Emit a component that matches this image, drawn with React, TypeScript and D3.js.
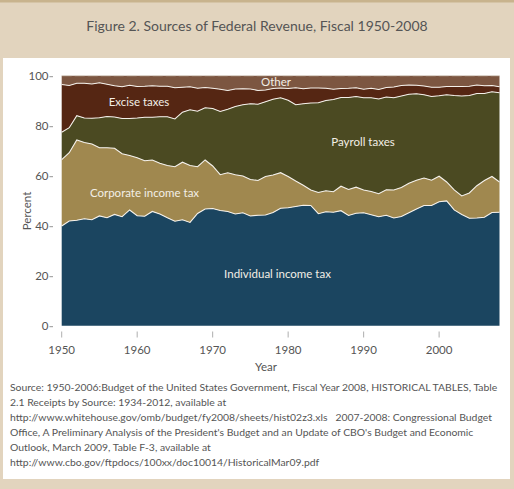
import { useEffect, useRef } from "react";
import * as d3 from "d3";

// shares of total federal receipts, percent, fiscal 1950-2008
const years = d3.range(1950, 2009);
const individual = [
  39.9, 41.9, 42.2, 42.8, 42.4, 43.9, 43.2, 44.5, 43.6, 46.3,
  44.0, 43.8, 45.7, 44.7, 43.2, 41.8, 42.4, 41.3, 44.9, 46.7,
  46.9, 46.1, 45.7, 44.7, 45.2, 43.9, 44.2, 44.3, 45.3, 47.0,
  47.2, 47.7, 48.2, 48.1, 44.8, 45.6, 45.4, 46.0, 44.1, 45.0,
  45.2, 44.4, 43.6, 44.2, 43.1, 43.7, 45.2, 46.7, 48.1, 48.1,
  49.6, 49.9, 46.3, 44.5, 43.0, 43.1, 43.4, 45.3, 45.4,
];
const corporate = [
  26.5, 27.3, 32.1, 30.5, 30.3, 27.3, 28.0, 26.5, 25.2, 21.8,
  23.2, 22.2, 20.6, 20.3, 20.9, 21.8, 23.0, 22.8, 18.7, 19.6,
  17.0, 14.3, 15.5, 15.7, 14.7, 14.6, 13.9, 15.4, 15.0, 14.2,
  12.5, 10.2, 8.0, 6.2, 8.5, 8.4, 8.2, 9.8, 10.4, 10.4,
  9.1, 9.3, 9.2, 10.2, 11.2, 11.6, 11.8, 11.5, 11.0, 10.1,
  10.2, 7.6, 8.0, 7.4, 10.1, 12.9, 14.7, 14.4, 12.1,
];
const payroll = [
  11.0, 10.0, 9.7, 9.8, 10.3, 12.0, 12.5, 12.5, 14.1, 14.8,
  15.9, 17.4, 17.1, 18.6, 19.5, 19.1, 20.0, 22.3, 22.2, 20.9,
  23.0, 25.3, 25.4, 27.3, 28.5, 30.3, 30.5, 29.9, 30.3, 30.0,
  30.5, 30.5, 32.6, 34.8, 35.9, 36.1, 36.9, 35.5, 36.8, 36.3,
  36.9, 37.5, 37.9, 37.1, 36.9, 36.6, 35.6, 34.6, 33.3, 33.5,
  32.2, 34.9, 37.8, 40.0, 39.0, 36.9, 34.8, 33.9, 35.7,
];
const excise = [
  19.1, 16.9, 13.0, 13.9, 13.7, 14.0, 12.9, 12.5, 12.7, 13.3,
  12.6, 12.4, 12.6, 12.2, 12.2, 12.5, 10.0, 9.2, 9.2, 8.1,
  8.1, 8.9, 7.5, 7.0, 6.4, 5.9, 5.5, 4.7, 4.3, 3.9,
  4.7, 6.8, 6.0, 6.0, 5.9, 4.9, 4.1, 3.6, 3.7, 3.5,
  3.4, 3.8, 3.8, 3.8, 4.3, 4.2, 3.7, 3.4, 3.5, 3.7,
  3.4, 3.3, 3.6, 3.8, 3.7, 3.4, 3.1, 2.5, 2.4,
];
const other = [
  3.5, 3.9, 3.0, 3.0, 3.3, 2.8, 3.4, 4.0, 4.4, 3.8,
  4.3, 4.2, 4.0, 4.2, 4.2, 4.8, 4.6, 4.4, 5.0, 4.7,
  5.0, 5.4, 5.9, 5.3, 5.2, 5.3, 5.9, 5.7, 5.1, 4.9,
  5.1, 4.8, 5.2, 4.9, 4.9, 5.0, 5.4, 5.1, 5.0, 4.8,
  5.4, 5.0, 5.5, 4.7, 4.5, 3.9, 3.7, 3.8, 4.1, 4.6,
  4.6, 4.3, 4.3, 4.3, 4.2, 3.7, 4.0, 3.9, 4.4,
];

const seriesKeys = ["individual", "corporate", "payroll", "excise", "other"];
const seriesColors = ["#1b4560", "#a0884f", "#4b4a22", "#552613", "#7c5641"];

const xTicks = [1950, 1960, 1970, 1980, 1990, 2000];
const yTicks = [0, 20, 40, 60, 80, 100];

const title = "Figure 2. Sources of Federal Revenue, Fiscal 1950-2008";
const sourceLines = [
  "Source: 1950-2006:Budget of the United States Government, Fiscal Year 2008, HISTORICAL TABLES, Table",
  "2.1 Receipts by Source: 1934-2012, available at",
  "http://www.whitehouse.gov/omb/budget/fy2008/sheets/hist02z3.xls   2007-2008: Congressional Budget",
  "Office, A Preliminary Analysis of the President's Budget and an Update of CBO's Budget and Economic",
  "Outlook, March 2009, Table F-3, available at",
  "http://www.cbo.gov/ftpdocs/100xx/doc10014/HistoricalMar09.pdf",
];

const font = "Lato, 'Open Sans', sans-serif";

export default function App() {
  const chartRef = useRef(null);

  useEffect(() => {
    const width = 514;
    const height = 489;
    const svg = d3.select(chartRef.current);
    svg.selectAll("*").remove();
    svg.attr("width", width).attr("height", height);

    // frame
    svg.append("rect").attr("width", width).attr("height", height).attr("fill", "#e2d4be");
    svg.append("rect").attr("width", width).attr("height", 2.5).attr("fill", "#c8b38d");
    svg.append("rect").attr("x", 3).attr("y", 58).attr("width", 507).attr("height", 421).attr("fill", "#fff");

    svg
      .append("text")
      .attr("x", 257)
      .attr("y", 31)
      .attr("text-anchor", "middle")
      .attr("font-family", font)
      .attr("font-size", 14)
      .attr("fill", "#555")
      .text(title);

    const x = d3.scaleLinear().domain([1950, 2008]).range([61.7, 499.5]);
    const y = d3.scaleLinear().domain([0, 100]).range([325.7, 75.7]);

    const table = years.map((yr, i) => ({
      year: yr,
      individual: individual[i],
      corporate: corporate[i],
      payroll: payroll[i],
      excise: excise[i],
      other: other[i],
    }));
    const stacked = d3.stack().keys(seriesKeys)(table);

    const area = d3
      .area()
      .x((d) => x(d.data.year))
      .y0((d) => y(d[0]))
      .y1((d) => y(Math.min(d[1], 100)));

    svg
      .append("g")
      .selectAll("path")
      .data(stacked)
      .enter()
      .append("path")
      .attr("d", area)
      .attr("fill", (d, i) => seriesColors[i]);

    const topLine = d3
      .line()
      .x((d) => x(d.data.year))
      .y((d) => y(d[1]));

    svg
      .append("g")
      .selectAll("path")
      .data(stacked.slice(0, 4))
      .enter()
      .append("path")
      .attr("d", topLine)
      .attr("fill", "none")
      .attr("stroke", "#f4f0ea")
      .attr("stroke-width", 1.1);

    svg
      .append("line")
      .attr("x1", x(1950))
      .attr("x2", x(2008))
      .attr("y1", y(100))
      .attr("y2", y(100))
      .attr("stroke", "#d8cec4")
      .attr("stroke-width", 0.8)
      .attr("stroke-dasharray", "10,3");

    // y axis
    const yAxis = svg.append("g");
    yTicks.forEach((t) => {
      yAxis
        .append("text")
        .attr("x", 48.5)
        .attr("y", y(t) + 4)
        .attr("text-anchor", "end")
        .attr("font-family", font)
        .attr("font-size", 11.5)
        .attr("fill", "#555")
        .text(t);
      yAxis
        .append("line")
        .attr("x1", 49.5)
        .attr("x2", 53)
        .attr("y1", y(t) + 1)
        .attr("y2", y(t) + 1)
        .attr("stroke", "#777")
        .attr("stroke-width", 0.8);
    });

    // x axis
    const xAxis = svg.append("g");
    xTicks.forEach((t) => {
      xAxis
        .append("line")
        .attr("x1", x(t))
        .attr("x2", x(t))
        .attr("y1", 331.5)
        .attr("y2", 337.5)
        .attr("stroke", "#999")
        .attr("stroke-width", 0.8);
      xAxis
        .append("text")
        .attr("x", x(t))
        .attr("y", 354)
        .attr("text-anchor", "middle")
        .attr("font-family", font)
        .attr("font-size", 11.5)
        .attr("fill", "#555")
        .text(t);
    });

    svg
      .append("text")
      .attr("x", 266)
      .attr("y", 371)
      .attr("text-anchor", "middle")
      .attr("font-family", font)
      .attr("font-size", 11.5)
      .attr("fill", "#555")
      .text("Year");

    svg
      .append("text")
      .attr("transform", "translate(31,211) rotate(-90)")
      .attr("text-anchor", "middle")
      .attr("font-family", font)
      .attr("font-size", 11.5)
      .attr("fill", "#555")
      .text("Percent");

    // series labels
    const labels = [
      { text: "Other", x: 276, y: 85.5 },
      { text: "Excise taxes", x: 139, y: 106 },
      { text: "Payroll taxes", x: 363, y: 146 },
      { text: "Corporate income tax", x: 144.5, y: 196.5 },
      { text: "Individual income tax", x: 277.5, y: 277.5 },
    ];
    svg
      .append("g")
      .selectAll("text")
      .data(labels)
      .enter()
      .append("text")
      .attr("x", (d) => d.x)
      .attr("y", (d) => d.y)
      .attr("text-anchor", "middle")
      .attr("font-family", font)
      .attr("font-size", 11.5)
      .attr("fill", "#f3efe6")
      .text((d) => d.text);

    // source note
    svg
      .append("g")
      .selectAll("text")
      .data(sourceLines)
      .enter()
      .append("text")
      .attr("x", 10)
      .attr("y", (d, i) => 390.5 + i * 15)
      .attr("font-family", font)
      .attr("font-size", 10.4)
      .attr("fill", "#555")
      .style("white-space", "pre")
      .text((d) => d);
  }, []);

  return <svg ref={chartRef} style={{ position: "absolute", left: 0, top: 0 }} />;
}
